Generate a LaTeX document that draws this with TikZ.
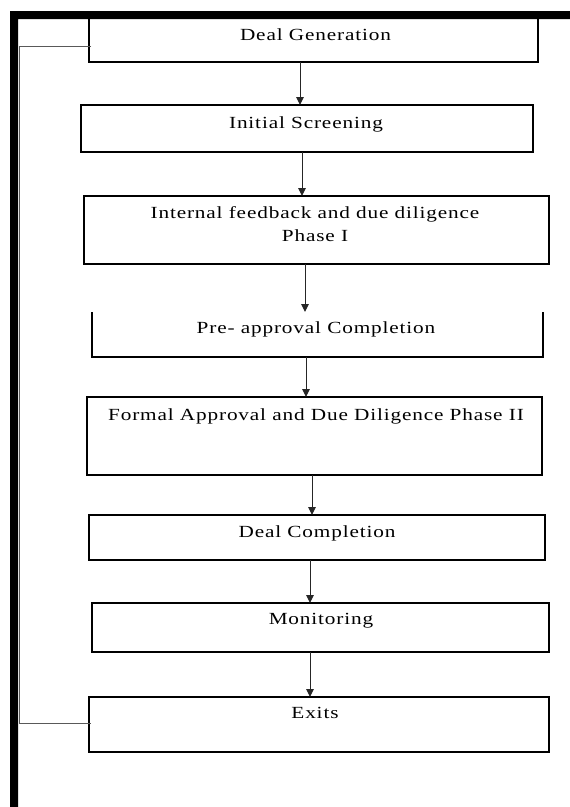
\documentclass[tikz,border=0pt]{standalone}
\usepackage{fontspec}
\setmainfont{Liberation Serif}[FakeStretch=1.25,LetterSpace=5]
\usetikzlibrary{arrows.meta}
\begin{document}
\begin{tikzpicture}[x=1pt,y=-1pt,
  box/.style={draw=black,line width=1.4pt,inner sep=0pt,outer sep=0pt,anchor=north west},
  openbox/.style={inner sep=0pt,outer sep=0pt,anchor=north west},
  lbl/.style={inner sep=0pt,outer sep=0pt,anchor=base,align=center,font=\fontsize{17}{23}\selectfont},
  arr/.style={draw=black!85,line width=1pt,-{Triangle[width=7.5pt,length=8pt]}},
  side/.style={draw=black!65,line width=0.9pt}]
\useasboundingbox (0,0) rectangle (570,807);
% boxes
\node[box,minimum width=449pt,minimum height=47pt] (dg) at (89,15) {};
\node[box,minimum width=452pt,minimum height=47pt] (is) at (81,105) {};
\node[box,minimum width=465pt,minimum height=68pt] (if) at (84,196) {};
\node[openbox,minimum width=451pt,minimum height=45pt] (pa) at (92,312) {};
\draw[line width=1.4pt] (pa.north west) -- (pa.south west) -- (pa.south east) -- (pa.north east);
\node[box,minimum width=455pt,minimum height=78pt] (fa) at (87,397) {};
\node[box,minimum width=456pt,minimum height=45pt] (dc) at (89,515) {};
\node[box,minimum width=457pt,minimum height=49pt] (mo) at (92,603) {};
\node[box,minimum width=460pt,minimum height=55pt] (ex) at (89,697) {};
% labels
\node[lbl] (dgt) at (315.5,40) {Deal Generation};
\node[lbl] (ist) at (306,128) {Initial Screening};
\node[lbl] (ift) at (315,218) {Internal feedback and due diligence};
\node[lbl] (ift2) at (315,241) {Phase I};
\node[lbl] (pat) at (316,333) {Pre- approval Completion};
\node[lbl] (fat) at (316,420) {Formal Approval and Due Diligence Phase II};
\node[lbl] (dct) at (317,537) {Deal Completion};
\node[lbl] (mot) at (321,624) {Monitoring};
\node[lbl] (ext) at (315,718) {Exits};
% arrows
\draw[arr] (300,0 |- dg.south) -- (300,0 |- is.north);
\draw[arr] (302,0 |- is.south) -- (302,0 |- if.north);
\draw[arr] (305,0 |- if.south) -- (305,0 |- pa.north);
\draw[arr] (306,0 |- pa.south) -- (306,0 |- fa.north);
\draw[arr] (312,0 |- fa.south) -- (312,0 |- dc.north);
\draw[arr] (310,0 |- dc.south) -- (310,0 |- mo.north);
\draw[arr] (310,0 |- mo.south) -- (310,0 |- ex.north);
% left feedback line
\coordinate (L1) at (19.5,46);
\coordinate (L2) at (19.5,723);
\draw[side] ([xshift=2pt]dg.west |- L1) -- (L1) -- (L2) -- ([xshift=2pt]ex.west |- L2);
% thick frame
\fill[black] (10,11) -- (570,11) -- (570,19) -- (18,19) -- (18,807) -- (10,807) -- cycle;
\end{tikzpicture}
\end{document}
